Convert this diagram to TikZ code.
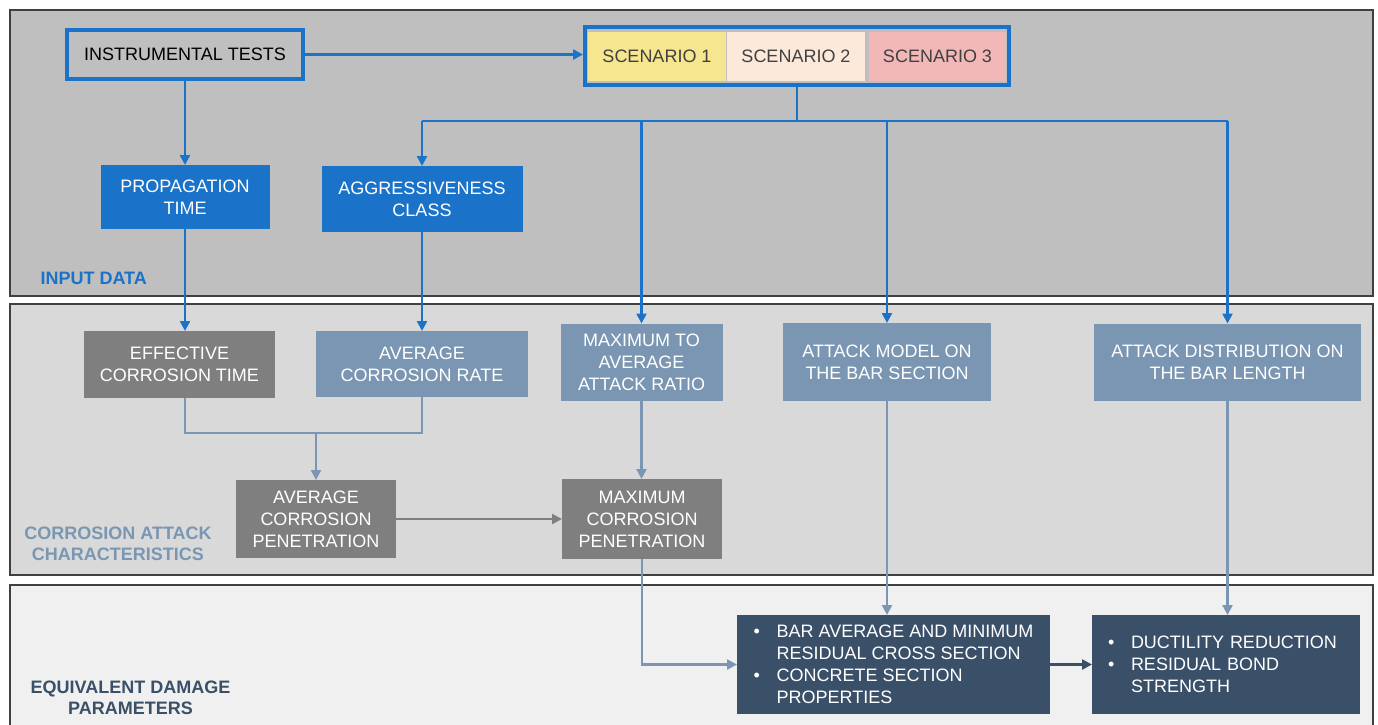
\documentclass[tikz,border=0pt]{standalone}
\usepackage{fontspec}
\setmainfont{Liberation Sans}
\usetikzlibrary{arrows.meta}

\definecolor{flowblue}{RGB}{26,115,201}
\definecolor{steel}{RGB}{122,150,178}
\definecolor{boxgray}{RGB}{127,127,127}
\definecolor{slate}{RGB}{58,80,104}
\definecolor{panelA}{RGB}{191,191,191}
\definecolor{panelB}{RGB}{217,217,217}
\definecolor{panelC}{RGB}{240,240,240}
\definecolor{frame}{RGB}{64,64,64}
\definecolor{scenA}{RGB}{245,230,143}
\definecolor{scenB}{RGB}{253,233,217}
\definecolor{scenC}{RGB}{242,184,184}
\definecolor{scentext}{RGB}{64,64,64}

\newcommand{\bul}{\makebox[23pt][l]{\textbullet}}
\newcommand{\cont}{\hspace*{23pt}}

\begin{document}
\begin{tikzpicture}[x=1pt,y=-1pt,
  font=\fontsize{18}{22}\selectfont,
  panel/.style={draw=frame, line width=2pt},
  fbox/.style={inner sep=0pt, outer sep=0pt, align=center, text=white},
  blueline/.style={draw=flowblue, line width=2.4pt},
  bluearrow/.style={blueline, -{Triangle[length=10pt,width=10pt]}},
  steelline/.style={draw=steel, line width=2.2pt},
  steelarrow/.style={steelline, -{Triangle[length=10pt,width=10pt]}},
  grayarrow/.style={draw=boxgray, line width=2.4pt, -{Triangle[length=10pt,width=10pt]}},
  slatearrow/.style={draw=slate, line width=2.4pt, -{Triangle[length=10pt,width=10pt]}},
  cell/.style={inner sep=0pt, minimum height=49pt, text=scentext},
  paneltitle/.style={font=\fontsize{18}{21}\selectfont\bfseries, align=center}
]
\useasboundingbox (0,0) rectangle (1378,724);
\fill[white] (0,0) rectangle (1378,724);
\clip (0,0) rectangle (1378,724);

% panels
\filldraw[panel, fill=panelA] (10,9.5) rectangle (1373,295.5);
\filldraw[panel, fill=panelB] (10,303.5) rectangle (1373,575);
\filldraw[panel, fill=panelC] (10,584.5) rectangle (1373,740);

\node[paneltitle, text=flowblue, anchor=west] (tin) at (37,278) {INPUT DATA};
\node[paneltitle, text=steel] (tcor) at (118,543.5) {CORROSION ATTACK\\CHARACTERISTICS};
\node[paneltitle, text=slate] (teq) at (130.5,698) {EQUIVALENT DAMAGE\\PARAMETERS};

% input data
\node[draw=flowblue, line width=4pt, inner sep=0pt, minimum width=236pt, minimum height=49pt, text=black]
  (inst) at (185,54.5) {INSTRUMENTAL TESTS};

\node[cell, fill=scenA, minimum width=138pt] (s1) at (657,56) {SCENARIO 1};
\node[cell, fill=scenB, minimum width=138pt] (s2) at (796,56) {SCENARIO 2};
\node[cell, fill=scenC, minimum width=137pt] (s3) at (937.5,56) {SCENARIO 3};
\node[draw=flowblue, line width=4pt, inner sep=0pt, minimum width=424pt, minimum height=58pt]
  (scen) at (797,56) {};

\node[fbox, fill=flowblue, minimum width=169pt, minimum height=64pt] (prop) at (185,197) {PROPAGATION\\TIME};
\node[fbox, fill=flowblue, minimum width=201pt, minimum height=66pt] (agg) at (422,199) {AGGRESSIVENESS\\CLASS};

% corrosion attack characteristics
\node[fbox, fill=boxgray, minimum width=191pt, minimum height=67pt] (eff) at (179.5,364.5) {EFFECTIVE\\CORROSION TIME};
\node[fbox, fill=steel, minimum width=212pt, minimum height=66pt] (rate) at (422,364) {AVERAGE\\CORROSION RATE};
\node[fbox, fill=steel, minimum width=162pt, minimum height=77pt] (mta) at (641.5,362) {MAXIMUM TO\\AVERAGE\\ATTACK RATIO};
\node[fbox, fill=steel, minimum width=208pt, minimum height=78pt] (am) at (887,362) {ATTACK MODEL ON\\THE BAR SECTION};
\node[fbox, fill=steel, minimum width=267pt, minimum height=77pt] (ad) at (1227.5,362) {ATTACK DISTRIBUTION ON\\THE BAR LENGTH};
\node[fbox, fill=boxgray, minimum width=160pt, minimum height=78pt] (apen) at (316,519) {AVERAGE\\CORROSION\\PENETRATION};
\node[fbox, fill=boxgray, minimum width=160pt, minimum height=80pt] (mpen) at (642,519) {MAXIMUM\\CORROSION\\PENETRATION};

% equivalent damage parameters
\node[fbox, align=left, fill=slate, minimum width=313pt, minimum height=99pt] (bar) at (893.5,664.5)
  {\bul BAR AVERAGE AND MINIMUM\\\cont RESIDUAL CROSS SECTION\\\bul CONCRETE SECTION\\\cont PROPERTIES};
\node[fbox, align=left, fill=slate, inner xsep=16pt, text width=236pt, minimum height=99pt] (duct) at (1226,664.5)
  {\bul DUCTILITY REDUCTION\\\bul RESIDUAL BOND\\\cont STRENGTH};

% connectors: input data
\coordinate (busL) at (422,121);
\coordinate (busM) at (641.5,121);
\coordinate (busN) at (887,121);
\coordinate (busR) at (1227.5,121);
\draw[bluearrow] (inst.east) -- (inst.east -| scen.west);
\draw[bluearrow] (inst.south) -- (prop.north);
\draw[blueline] (scen.south) -- (scen.south |- busL);
\draw[blueline] (busL) -- (busR);
\draw[bluearrow] (busL) -- (agg.north);
\draw[bluearrow] (busM) -- (mta.north);
\draw[bluearrow] (busN) -- (am.north);
\draw[bluearrow] (busR) -- (ad.north);
\draw[bluearrow] (prop.south) -- (prop.south |- eff.north);
\draw[bluearrow] (agg.south) -- (rate.north);

% connectors: corrosion attack characteristics
\coordinate (join) at (316,433);
\draw[steelline] (prop.south |- eff.south) |- (rate.south |- join) -- (rate.south);
\draw[steelarrow] (join) -- (apen.north);
\draw[grayarrow] (apen.east) -- (apen.east -| mpen.west);
\draw[steelarrow] (mta.south) -- (mta.south |- mpen.north);

% connectors: equivalent damage parameters
\draw[steelarrow] (mpen.south) |- (bar.west);
\draw[steelarrow] (am.south) -- (am.south |- bar.north);
\draw[steelarrow] (ad.south) -- (ad.south |- duct.north);
\draw[slatearrow] (bar.east) -- (duct.west);
\end{tikzpicture}
\end{document}
